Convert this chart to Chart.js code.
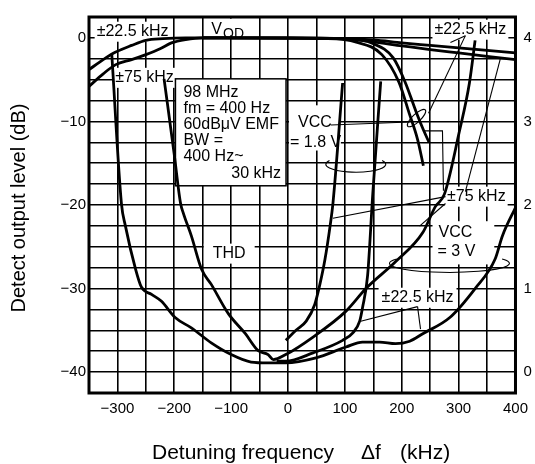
<!DOCTYPE html>
<html>
<head>
<meta charset="utf-8">
<script src="https://cdn.jsdelivr.net/npm/chart.js@4.4.1/dist/chart.umd.min.js"></script>
<style>
  html, body { margin: 0; padding: 0; background: #fff; }
</style>
</head>
<body>
<canvas id="detune-chart" width="535" height="464"></canvas>
<script>
// Detect output level (dB, left axis) vs detuning frequency (kHz)
const det3v22X = [-350, -325, -303, -275, -250, -220, -180, 0, 100, 150, 200, 250, 300, 350, 400];
const det3v22Y = [-3.8, -2.6, -1.7, -0.9, -0.3, -0.1, 0, 0, -0.1, -0.25, -0.6, -0.9, -1.2, -1.5, -1.8];

const det3v75X = [-350, -325, -303, -275, -250, -225, -205, -180, -150, 0, 100, 145, 200, 250, 300, 350, 400];
const det3v75Y = [-5.8, -4.3, -3.2, -2.6, -2.0, -1.3, -0.6, -0.2, 0, 0, -0.1, -0.45, -0.95, -1.4, -1.8, -2.2, -2.6];

const det18v75X = [-150, 100, 150, 185, 206, 225, 238, 248];
const det18v75Y = [0, -0.1, -0.7, -2.4, -5.3, -8.8, -11.0, -12.5];

const det18v22X = [-150, 70, 120, 165, 195, 213, 228, 238];
const det18v22Y = [0, -0.1, -0.5, -2.0, -5.3, -9.0, -12.2, -15.3];

// THD (%, right axis)
const thd3v22X = [-310, -293, -286, -268, -258, -240, -223, -198, -170, -135, -100, -65, -35, -4, 49, 102, 131, 161, 189, 214, 237, 284, 329, 364, 377, 400];
const thd3v22Y = [3.81, 2.02, 1.75, 1.23, 1.02, 0.93, 0.85, 0.65, 0.53, 0.35, 0.21, 0.12, 0.11, 0.11, 0.17, 0.30, 0.36, 0.36, 0.34, 0.37, 0.46, 0.65, 1.00, 1.35, 1.63, 1.97];

const thd3v75X = [-218, -200, -189, -184, -170, -152, -135, -105, -75, -53, -35, -26, -4, 44, 102, 137, 189, 237, 259, 275, 301, 319, 329];
const thd3v75Y = [3.51, 2.6, 2.02, 1.90, 1.63, 1.23, 1.05, 0.70, 0.46, 0.26, 0.21, 0.15, 0.21, 0.42, 0.73, 1.00, 1.32, 1.67, 1.98, 2.13, 2.87, 3.46, 3.97];

const thd18v75X = [-4, 14, 32, 47, 56, 65, 74, 79, 96];
const thd18v75Y = [0.38, 0.50, 0.61, 0.81, 1.05, 1.35, 1.75, 2.02, 3.46];

const thd18v22X = [-20, -4, 44, 96, 114, 126, 131, 140, 149, 163];
const thd18v22Y = [0.13, 0.13, 0.23, 0.38, 0.47, 0.61, 0.77, 1.16, 2.13, 3.48];

const paramLines = ['98 MHz', 'fm = 400 Hz', '60dB\u03bcV EMF', 'BW =', '400 Hz~', '30 kHz'];

const FONT = "'Liberation Sans', Arial, Helvetica, sans-serif";
const minus = v => String(v).replace('-', '\u2212');

function series(xs, ys, axis) {
  return {
    data: xs.map((x, i) => ({ x: x, y: ys[i] })),
    yAxisID: axis,
    borderColor: '#000',
    borderWidth: 2.8,
    pointRadius: 0,
    fill: false,
    cubicInterpolationMode: 'monotone'
  };
}

function boxedText(ctx, text, cx, cy, padX) {
  ctx.font = '16px ' + FONT;
  const w = ctx.measureText(text).width;
  ctx.fillStyle = '#fff';
  ctx.fillRect(cx - w / 2 - padX, cy - 10, w + padX * 2, 20);
  ctx.fillStyle = '#000';
  ctx.textAlign = 'center';
  ctx.textBaseline = 'middle';
  ctx.fillText(text, cx, cy);
}

function openEllipse(ctx, cx, cy, rx, ry, spread) {
  ctx.beginPath();
  ctx.ellipse(cx, cy, rx, ry, 0, -spread, Math.PI + spread, false);
  ctx.stroke();
}

const annotations = {
  id: 'annotations',
  beforeDatasetsDraw(chart) {
    const ctx = chart.ctx;
    const X = v => chart.scales.x.getPixelForValue(v);
    const Y = v => chart.scales.y.getPixelForValue(v);
    ctx.save();

    boxedText(ctx, '\u00b122.5 kHz', X(-273.3), Y(0.74), 2);
    boxedText(ctx, '\u00b175 kHz', X(-252.3), Y(-4.78), 2);
    boxedText(ctx, '\u00b122.5 kHz', X(320.7), Y(0.98), 2);
    boxedText(ctx, '\u00b175 kHz', X(331.2), Y(-19.0), 2);
    boxedText(ctx, 'THD', X(-103.4), Y(-25.82), 9);
    boxedText(ctx, '\u00b122.5 kHz', X(227.8), Y(-31.1), 3);

    // V_OD
    ctx.fillStyle = '#fff';
    ctx.fillRect(X(-144), Y(2.3), X(-52) - X(-144), Y(0.3) - Y(2.3));
    ctx.fillStyle = '#000';
    ctx.textAlign = 'left';
    ctx.textBaseline = 'alphabetic';
    ctx.font = '16px ' + FONT;
    ctx.fillText('V', X(-134.9), Y(0.45));
    const vw = ctx.measureText('V').width;
    ctx.font = '14px ' + FONT;
    ctx.fillText('OD', X(-134.9) + vw + 1, Y(0.45) + 4);

    // Vcc = 1.8 V
    ctx.fillStyle = '#fff';
    ctx.fillRect(X(1.75), Y(-8.07), X(92.9) - X(1.75), Y(-13.48) - Y(-8.07));
    ctx.fillStyle = '#000';
    ctx.font = '16px ' + FONT;
    ctx.fillText('VCC', X(17.5), Y(-10.66));
    ctx.fillText('= 1.8 V', X(3.5), Y(-13.01));

    // Vcc = 3 V
    ctx.fillStyle = '#fff';
    ctx.fillRect(X(254.1), Y(-21.94), X(362.7) - X(254.1), Y(-27.11) - Y(-21.94));
    ctx.fillStyle = '#000';
    ctx.textAlign = 'center';
    ctx.textBaseline = 'middle';
    ctx.fillText('VCC', X(294.4), Y(-23.35));
    ctx.fillText('= 3 V', X(296.1), Y(-25.58));

    // measuring conditions
    const bx = X(-198), by = Y(-4.9), bw = X(-3.5) - bx, bh = Y(-17.7) - by;
    ctx.fillStyle = '#fff';
    ctx.fillRect(bx, by, bw, bh);
    ctx.strokeStyle = '#000';
    ctx.lineWidth = 1.5;
    ctx.strokeRect(bx, by, bw, bh);
    ctx.fillStyle = '#000';
    ctx.textBaseline = 'alphabetic';
    paramLines.forEach((t, i) => {
      const last = i === paramLines.length - 1;
      ctx.textAlign = last ? 'right' : 'left';
      ctx.fillText(t, last ? bx + bw - 5 : bx + 8, by + 17.7 + i * 16.2);
    });
    ctx.restore();
  },
  afterDatasetsDraw(chart) {
    const ctx = chart.ctx;
    const X = v => chart.scales.x.getPixelForValue(v);
    const Y = v => chart.scales.y.getPixelForValue(v);
    ctx.save();
    ctx.strokeStyle = '#000';
    ctx.lineWidth = 1.1;
    const leaders = [
      [[311.9, 0.27], [285.6, -0.55]],
      [[311.9, 0.27], [247.1, -9.01]],
      [[75.3, -10.42], [213.8, -10.07]],
      [[311.9, -18.41], [373.2, -2.55]],
      [[276.9, -19.0], [78.9, -21.58]],
      [[276.9, -19.82], [231.3, -22.52]],
      [[240.1, -11.13], [271.6, -11.13], [273.3, -18.29]],
      [[227.8, -32.16], [127.9, -33.92]],
      [[227.8, -32.16], [233.0, -34.86]]
    ];
    leaders.forEach(pts => {
      ctx.beginPath();
      pts.forEach((p, i) => {
        if (i === 0) ctx.moveTo(X(p[0]), Y(p[1]));
        else ctx.lineTo(X(p[0]), Y(p[1]));
      });
      ctx.stroke();
    });
    openEllipse(ctx, X(119.2), Y(-15.12), 30, 8, 0.5);
    openEllipse(ctx, X(283.9), Y(-26.99), 60, 9, 0.5);
    ctx.beginPath();
    ctx.ellipse(X(226), Y(-9.6), 12, 4, -0.75, 0, Math.PI * 2);
    ctx.stroke();
    ctx.restore();
  },
  afterDraw(chart) {
    const ctx = chart.ctx;
    const a = chart.chartArea;
    ctx.save();
    ctx.strokeStyle = '#000';
    ctx.lineWidth = 3;
    ctx.strokeRect(a.left, a.top, a.right - a.left, a.bottom - a.top);

    ctx.fillStyle = '#000';
    ctx.font = '20px ' + FONT;
    ctx.textBaseline = 'alphabetic';
    ctx.save();
    ctx.translate(25, 208);
    ctx.rotate(-Math.PI / 2);
    ctx.textAlign = 'center';
    ctx.fillText('Detect output level (dB)', 0, 0);
    ctx.restore();

    ctx.font = '21px ' + FONT;
    ctx.textAlign = 'left';
    ctx.fillText('Detuning frequency', 152, 459);
    ctx.fillText('\u0394f', 361, 459);
    ctx.fillText('(kHz)', 400, 459);
    ctx.restore();
  }
};

Chart.defaults.font.family = FONT;
Chart.defaults.font.size = 15;
Chart.defaults.color = '#000';

new Chart(document.getElementById('detune-chart'), {
  type: 'line',
  data: {
    datasets: [
      series(det3v22X, det3v22Y, 'y'),
      series(det3v75X, det3v75Y, 'y'),
      series(det18v75X, det18v75Y, 'y'),
      series(det18v22X, det18v22Y, 'y'),
      series(thd3v22X, thd3v22Y, 'y2'),
      series(thd3v75X, thd3v75Y, 'y2'),
      series(thd18v75X, thd18v75Y, 'y2'),
      series(thd18v22X, thd18v22Y, 'y2')
    ]
  },
  options: {
    responsive: false,
    animation: false,
    devicePixelRatio: 1,
    layout: { padding: { top: 10, left: 0, right: 0, bottom: 0 } },
    plugins: { legend: { display: false }, tooltip: { enabled: false } },
    scales: {
      x: {
        type: 'linear',
        min: -350,
        max: 400,
        grid: { color: '#000', lineWidth: 1.6, drawTicks: false },
        border: { display: false },
        ticks: {
          stepSize: 50,
          autoSkip: false,
          maxRotation: 0,
          padding: 7,
          callback: v => (v % 100 === 0 ? minus(v) : '')
        },
        afterFit: s => { s.height = 71; }
      },
      y: {
        position: 'left',
        min: -42.5,
        max: 2.5,
        grid: { color: '#000', lineWidth: 1.6, drawTicks: false },
        border: { display: false },
        ticks: {
          stepSize: 2.5,
          autoSkip: false,
          padding: 3,
          callback: v => (Math.abs(v % 10) < 1e-6 ? minus(v) : '')
        },
        afterFit: s => { s.width = 89; }
      },
      y2: {
        position: 'right',
        min: -0.25,
        max: 4.25,
        grid: { display: false, drawTicks: false },
        border: { display: false },
        ticks: {
          stepSize: 0.25,
          autoSkip: false,
          padding: 8,
          callback: v => (Math.abs(v - Math.round(v)) < 1e-6 ? String(Math.round(v)) : '')
        },
        afterFit: s => { s.width = 18; }
      }
    }
  },
  plugins: [annotations]
});
</script>
</body>
</html>
